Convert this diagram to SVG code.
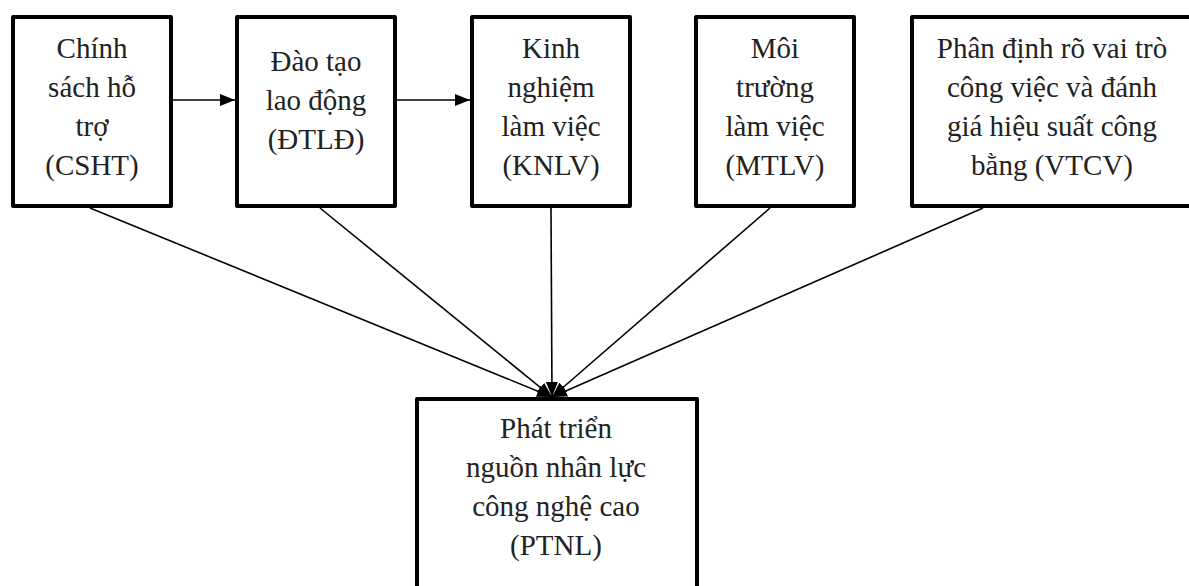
<svg xmlns="http://www.w3.org/2000/svg" width="1189" height="586" viewBox="0 0 1189 586">
  <style>
    .box { fill: #ffffff; stroke: #000000; stroke-width: 4; stroke-linejoin: round; }
    .lbl { font-family: 'Liberation Serif', 'Times New Roman', serif; font-size: 29px; fill: #222222; text-anchor: middle; }
    .link { stroke: #000000; stroke-width: 1.6; fill: none; marker-end: url(#head); }
  </style>
  <defs>
    <marker id="head" viewBox="0 0 15 12" refX="15" refY="6" markerWidth="15" markerHeight="12" markerUnits="userSpaceOnUse" orient="auto">
      <path d="M0,0 L15,6 L0,12 Z" fill="#000000"/>
    </marker>
  </defs>

  <g id="connectors">
    <line class="link" x1="171" y1="100" x2="235" y2="100"/>
    <line class="link" x1="395" y1="100" x2="470" y2="100"/>
    <line class="link" x1="90" y1="208" x2="552" y2="397"/>
    <line class="link" x1="320" y1="208" x2="552" y2="397"/>
    <line class="link" x1="551" y1="208" x2="552" y2="397"/>
    <line class="link" x1="770" y1="208" x2="552" y2="397"/>
    <line class="link" x1="983" y1="208" x2="552" y2="397"/>
  </g>

  <g id="cssht">
    <rect class="box" x="13" y="17" width="158" height="189"/>
    <text class="lbl" x="92" y="58">Chính</text>
    <text class="lbl" x="92" y="97">sách hỗ</text>
    <text class="lbl" x="92" y="136">trợ</text>
    <text class="lbl" x="92" y="175">(CSHT)</text>
  </g>

  <g id="dtld">
    <rect class="box" x="237" y="17" width="158" height="189"/>
    <text class="lbl" x="316" y="71">Đào tạo</text>
    <text class="lbl" x="316" y="110">lao động</text>
    <text class="lbl" x="316" y="149">(ĐTLĐ)</text>
  </g>

  <g id="knlv">
    <rect class="box" x="472" y="17" width="158" height="189"/>
    <text class="lbl" x="551" y="58">Kinh</text>
    <text class="lbl" x="551" y="97">nghiệm</text>
    <text class="lbl" x="551" y="136">làm việc</text>
    <text class="lbl" x="551" y="175">(KNLV)</text>
  </g>

  <g id="mtlv">
    <rect class="box" x="696" y="17" width="158" height="189"/>
    <text class="lbl" x="775" y="58">Môi</text>
    <text class="lbl" x="775" y="97">trường</text>
    <text class="lbl" x="775" y="136">làm việc</text>
    <text class="lbl" x="775" y="175">(MTLV)</text>
  </g>

  <g id="vtcv">
    <rect class="box" x="912" y="17" width="290" height="189"/>
    <text class="lbl" x="1052" y="58">Phân định rõ vai trò</text>
    <text class="lbl" x="1052" y="97">công việc và đánh</text>
    <text class="lbl" x="1052" y="136">giá hiệu suất công</text>
    <text class="lbl" x="1052" y="175">bằng (VTCV)</text>
  </g>

  <g id="ptnl">
    <rect class="box" x="417" y="399" width="280" height="200"/>
    <text class="lbl" x="556" y="438">Phát triển</text>
    <text class="lbl" x="556" y="477">nguồn nhân lực</text>
    <text class="lbl" x="556" y="516">công nghệ cao</text>
    <text class="lbl" x="556" y="555">(PTNL)</text>
  </g>
</svg>
